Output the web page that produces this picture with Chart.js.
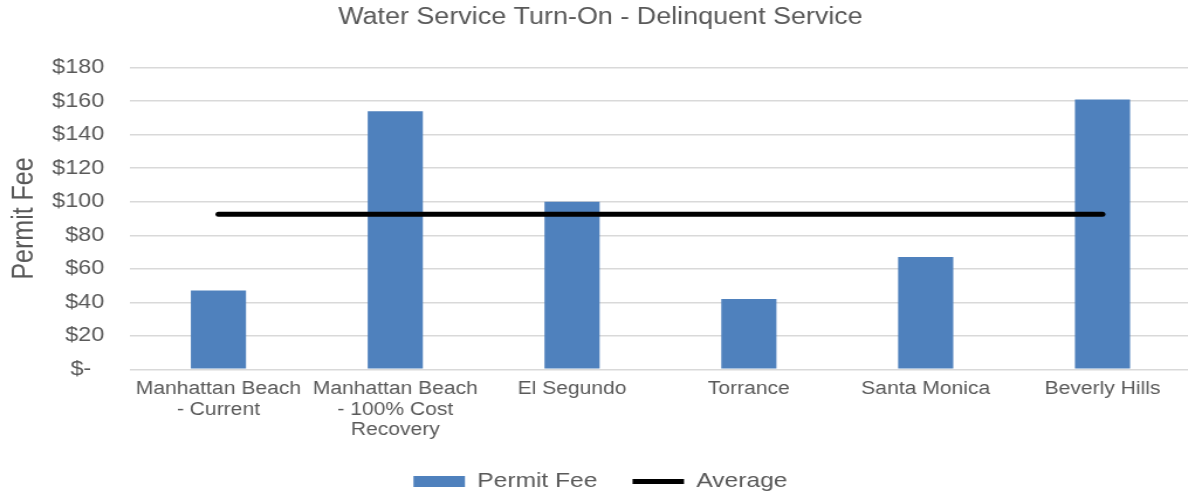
<!DOCTYPE html>
<html>
<head>
<meta charset="utf-8">
<script src="https://cdn.jsdelivr.net/npm/chart.js@4/dist/chart.umd.min.js"></script>
<style>
  html, body { margin: 0; padding: 0; background: #ffffff; overflow: hidden; }
  #wrap { width: 1020px; height: 493px; position: relative; transform: scaleX(1.1704); transform-origin: 0 0; }
</style>
</head>
<body>
<div id="wrap"><canvas id="c"></canvas></div>
<script>
const categories = [
  ["Manhattan Beach", "- Current"],
  ["Manhattan Beach", "- 100% Cost", "Recovery"],
  "El Segundo",
  "Torrance",
  "Santa Monica",
  "Beverly Hills"
];
const permitFee = [47, 154, 100, 42, 67, 161];
const average = [92.5, 92.5, 92.5, 92.5, 92.5, 92.5];
const yTicks = [0, 20, 40, 60, 80, 100, 120, 140, 160, 180];

const FONT = "'Liberation Sans', Arial, Helvetica, sans-serif";
const GREY = "#595959";

new Chart(document.getElementById('c'), {
  data: {
    labels: categories,
    datasets: [
      {
        type: 'line',
        label: 'Average',
        data: average,
        borderColor: '#000000',
        backgroundColor: '#000000',
        borderWidth: 5,
        borderCapStyle: 'round',
        pointRadius: 0,
        pointHoverRadius: 0,
        pointStyle: 'line',
        order: 0
      },
      {
        type: 'bar',
        label: 'Permit Fee',
        data: permitFee,
        backgroundColor: '#4f81bd',
        borderWidth: 0,
        barPercentage: 0.312,
        categoryPercentage: 1.0,
        pointStyle: 'rect',
        order: 1
      }
    ]
  },
  options: {
    responsive: true,
    maintainAspectRatio: false,
    animation: false,
    layout: { padding: { left: 6, right: 0, top: 4, bottom: -9 } },
    plugins: {
      title: {
        display: true,
        text: 'Water Service Turn-On - Delinquent Service',
        color: GREY,
        font: { family: FONT, size: 23, weight: 'normal', lineHeight: 1.2 },
        padding: { top: 0, bottom: 36 }
      },
      legend: {
        position: 'bottom',
        reverse: true,
        labels: {
          color: GREY,
          font: { family: FONT, size: 21 },
          usePointStyle: true,
          pointStyleWidth: 44,
          boxWidth: 44,
          boxHeight: 11,
          padding: 30
        }
      },
      tooltip: { enabled: false }
    },
    scales: {
      x: {
        afterFit: (scale) => { scale.height = 71.7; },
        grid: { display: false, drawTicks: false },
        border: { display: false },
        ticks: {
          color: GREY,
          font: { family: FONT, size: 18, lineHeight: 1.13 },
          maxRotation: 0,
          autoSkip: false,
          padding: 10
        }
      },
      y: {
        min: 0,
        max: 180,
        afterFit: (scale) => { scale.width = 105.1; },
        afterBuildTicks: (scale) => { scale.ticks = yTicks.map(v => ({ value: v })); },
        grid: { color: '#d9d9d9', lineWidth: 1.4, drawTicks: false },
        border: { display: false },
        ticks: {
          color: GREY,
          font: { family: FONT, size: 20 },
          padding: 22,
          callback: (v) => v === 0 ? '$-  ' : '$' + v
        },
        title: {
          display: true,
          text: 'Permit Fee',
          color: GREY,
          font: { family: FONT, size: 25, lineHeight: 1.0 },
          padding: { top: 3, bottom: 0 }
        }
      }
    }
  }
});
</script>
</body>
</html>
